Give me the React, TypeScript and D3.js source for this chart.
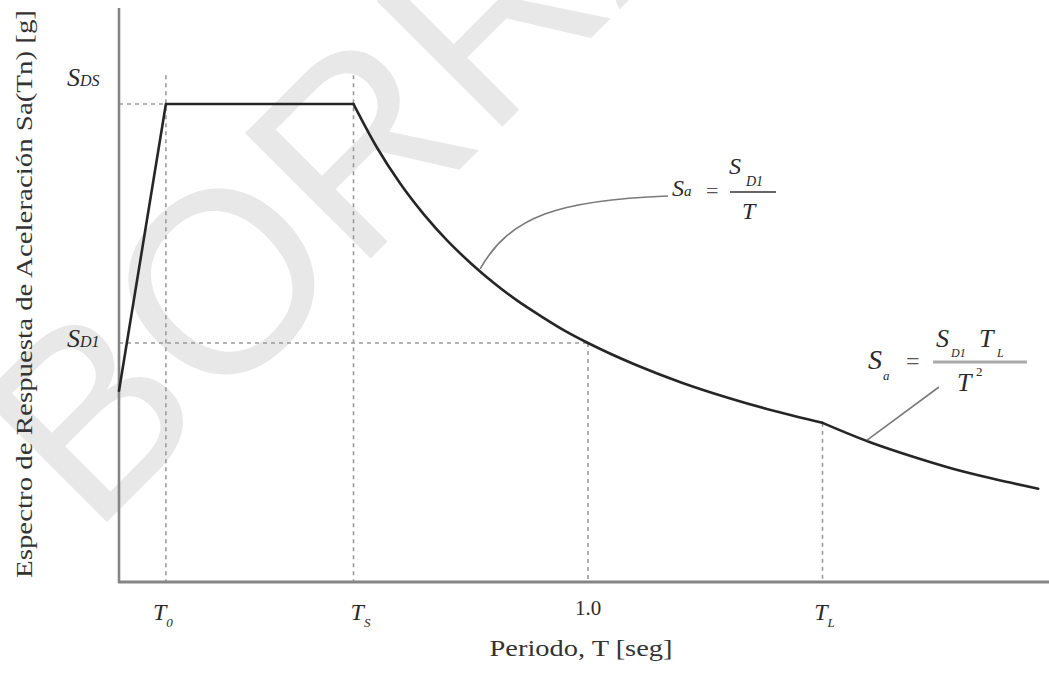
import React from "react";
import * as d3 from "d3";

// Key periods (s) and spectral ordinates (g)
const T0 = 0.1;
const TS = 0.5;
const T1 = 1.0;
const TL = 1.5;
const SDS = 1.0;
const SD1 = 0.5;

// Rising branch + plateau
const rampPeriods = [0, 0.1, 0.5];
const rampSa = [0.4, 1.0, 1.0];
// Descending branch  Sa = SD1 / T
const velPeriods = [0.5, 0.55, 0.6, 0.65, 0.7, 0.75, 0.8, 0.85, 0.9, 0.95, 1.0, 1.1, 1.2, 1.3, 1.4, 1.5];
const velSa = [1.0, 0.909, 0.833, 0.769, 0.714, 0.667, 0.625, 0.588, 0.556, 0.526, 0.5, 0.455, 0.417, 0.385, 0.357, 0.333];
// Long-period branch  Sa = SD1 TL / T^2
const longPeriods = [1.5, 1.6, 1.7, 1.8, 1.9, 1.96];
const longSa = [0.333, 0.293, 0.26, 0.231, 0.208, 0.195];

// Tick labels on the period axis
const tickValues = [T0, TS, T1, TL];
const tickMain = ["T", "T", "1.0", "T"];
const tickSub = ["0", "S", "", "L"];
const tickNudge = [-3, 7, 0, 2];

const xTitle = "Periodo, T [seg]";
const yTitle = "Espectro de Respuesta de Aceleración Sa(Tn) [g]";
const watermark = "BORRADOR";

const W = 1049;
const H = 676;
const SERIF = "'Liberation Serif', 'Times New Roman', serif";

export default function App() {
  const x = d3.scaleLinear().domain([0, 2]).range([119, 1057]);
  const y = d3.scaleLinear().domain([0, 1]).range([582, 104]);

  const lin = d3
    .line<[number, number]>()
    .x((d) => x(d[0]))
    .y((d) => y(d[1]))
    .curve(d3.curveLinear);
  const smooth = d3
    .line<[number, number]>()
    .x((d) => x(d[0]))
    .y((d) => y(d[1]))
    .curve(d3.curveMonotoneX);

  const ramp = rampPeriods.map((t, i) => [t, rampSa[i]] as [number, number]);
  const vel = velPeriods.map((t, i) => [t, velSa[i]] as [number, number]);
  const lng = longPeriods.map((t, i) => [t, longSa[i]] as [number, number]);

  const x0 = x(0);
  const yBase = y(0);
  const guide = { stroke: "#9a9a9a", strokeWidth: 1.6, strokeDasharray: "4,4" };
  const curveStyle = {
    fill: "none",
    stroke: "#262626",
    strokeWidth: 2.6,
    strokeLinejoin: "round" as const,
    strokeLinecap: "round" as const,
  };

  const a1 = [x(0.77), y(0.655)];
  const a2 = [x(1.595), y(0.297)];

  return (
    <svg width={W} height={H} style={{ display: "block", background: "#fff" }}>
      <style>{"body{margin:0}"}</style>

      {/* watermark */}
      <text
        transform="translate(92,537) rotate(-45)"
        fontFamily="'Liberation Sans', Arial, sans-serif"
        fontSize={258}
        fill="#e8e8e8"
      >
        {watermark}
      </text>

      {/* guide lines */}
      <line x1={x0} x2={x(T0)} y1={y(SDS)} y2={y(SDS)} {...guide} />
      <line x1={x0} x2={x(T1)} y1={y(SD1)} y2={y(SD1)} {...guide} />
      <line x1={x(T0)} x2={x(T0)} y1={y(1.06)} y2={yBase} {...guide} />
      <line x1={x(TS)} x2={x(TS)} y1={y(1.06)} y2={yBase} {...guide} />
      <line x1={x(T1)} x2={x(T1)} y1={y(SD1)} y2={yBase} {...guide} />
      <line x1={x(TL)} x2={x(TL)} y1={y(0.333)} y2={yBase} {...guide} />

      {/* axes */}
      <line x1={x0} x2={x0} y1={8} y2={yBase + 1} stroke="#858585" strokeWidth={2.6} />
      <line x1={x0 - 1} x2={W} y1={yBase} y2={yBase} stroke="#858585" strokeWidth={3} />

      {/* spectrum */}
      <path d={lin(ramp) || ""} {...curveStyle} />
      <path d={smooth(vel) || ""} {...curveStyle} />
      <path d={smooth(lng) || ""} {...curveStyle} />

      {/* leaders */}
      <path
        d={`M${a1[0]},${a1[1]} C${a1[0] + 30},${a1[1] - 53} 560,200 668,196`}
        fill="none"
        stroke="#7a7a7a"
        strokeWidth={1.6}
      />
      <line x1={a2[0]} y1={a2[1]} x2={939} y2={387} stroke="#7a7a7a" strokeWidth={1.6} />

      {/* y labels SDS, SD1 */}
      <g fontFamily={SERIF} fontStyle="italic" fill="#2a2a2a">
        <text x={67} y={y(SDS) - 18}>
          <tspan fontSize={26}>S</tspan>
          <tspan fontSize={16}>DS</tspan>
        </text>
        <text x={67} y={y(SD1) + 4}>
          <tspan fontSize={26}>S</tspan>
          <tspan fontSize={16}>D1</tspan>
        </text>
      </g>

      {/* x tick labels */}
      <g fontFamily={SERIF} fill="#2a2a2a">
        {tickValues.map((t, i) => (
          <text
            key={i}
            x={x(t) + tickNudge[i]}
            y={i === 2 ? 615 : 620}
            textAnchor="middle"
            fontStyle={tickSub[i] ? "italic" : "normal"}
            fontSize={tickSub[i] ? 24 : 21}
          >
            {tickMain[i]}
            {tickSub[i] ? (
              <tspan fontSize={13} dy={7}>
                {tickSub[i]}
              </tspan>
            ) : null}
          </text>
        ))}
      </g>

      {/* axis titles */}
      <text
        x={581}
        y={656}
        textAnchor="middle"
        fontFamily={SERIF}
        fontSize={23}
        fill="#333"
        textLength={183}
        lengthAdjust="spacingAndGlyphs"
      >
        {xTitle}
      </text>
      <text
        transform="translate(32,294) rotate(-90)"
        textAnchor="middle"
        fontFamily={SERIF}
        fontSize={24}
        fill="#333"
        textLength={568}
        lengthAdjust="spacingAndGlyphs"
      >
        {yTitle}
      </text>

      {/* formula 1 */}
      <g fontFamily={SERIF} fontStyle="italic" fill="#2a2a2a">
        <text x={672} y={196}>
          <tspan fontSize={24}>S</tspan>
          <tspan fontSize={15}>a</tspan>
        </text>
        <text x={706} y={198} fontStyle="normal" fontSize={22} fill="#555">
          =
        </text>
        <line x1={730} x2={776} y1={192} y2={192} stroke="#666" strokeWidth={2} />
        <text x={729} y={174} fontSize={24}>S</text>
        <text x={746} y={186} fontSize={14}>D1</text>
        <text x={742} y={219} fontSize={24}>T</text>
      </g>

      {/* formula 2 */}
      <g fontFamily={SERIF} fontStyle="italic" fill="#2a2a2a">
        <text x={868} y={369} fontSize={28}>S</text>
        <text x={883} y={380} fontSize={13}>a</text>
        <text x={906} y={369} fontStyle="normal" fontSize={24} fill="#555">
          =
        </text>
        <line x1={933} x2={1027} y1={362} y2={362} stroke="#aaa" strokeWidth={3} />
        <text x={936} y={347} fontSize={26}>S</text>
        <text x={951} y={357} fontSize={12}>D1</text>
        <text x={979} y={347} fontSize={26}>T</text>
        <text x={997} y={357} fontSize={12}>L</text>
        <text x={957} y={391} fontSize={26}>T</text>
        <text x={976} y={376} fontSize={13} fontStyle="normal">2</text>
      </g>
    </svg>
  );
}
